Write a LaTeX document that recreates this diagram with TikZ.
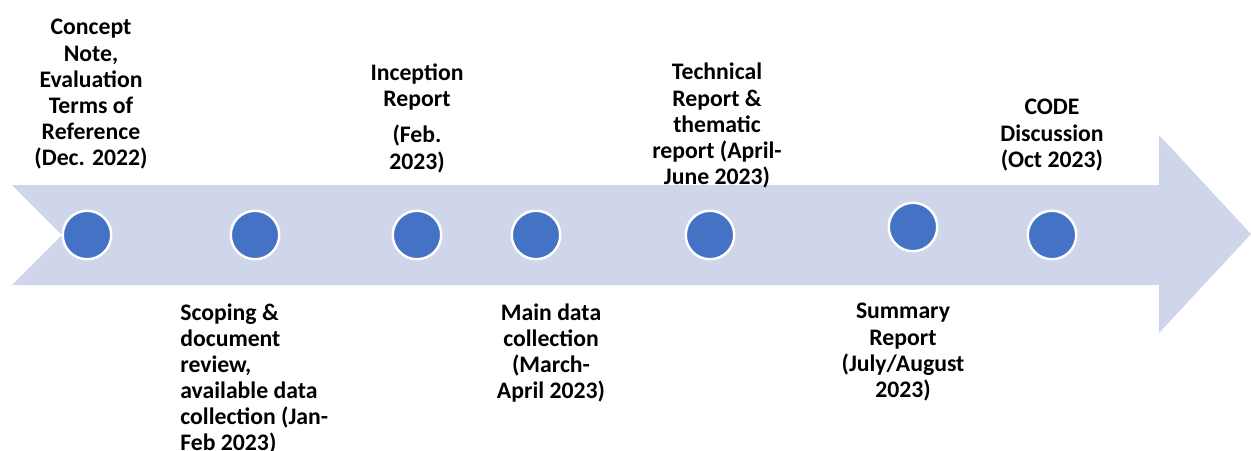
\documentclass[tikz,border=0pt]{standalone}
\usepackage{fontspec}
\setmainfont{Carlito}
\definecolor{bandblue}{HTML}{CFD5EA}
\definecolor{dotblue}{HTML}{4472C4}

\begin{document}
\begin{tikzpicture}[x=0.02cm, y=-0.02cm, line join=miter,
	milestone/.style={circle, fill=dotblue, draw=white, line width=1.4pt,
		minimum size=0.97cm, inner sep=0pt},
	stage/.style={font=\bfseries\fontsize{13.5}{14.9}\selectfont,
		align=center, inner sep=0pt, anchor=north}]
		
		\useasboundingbox (0,0) rectangle (1251,450);
		
		%========================
		% band with notched tail and arrow head
		%========================
		\fill[bandblue] (12,185) -- (1159,185) -- (1159,135) -- (1251,234)
		-- (1159,333) -- (1159,285) -- (12,285) -- (62,235) -- cycle;
		
		%========================
		% milestones on the band
		%========================
		\node[milestone] (d1) at (87,235) {};
		\node[milestone] (d2) at (255,235) {};
		\node[milestone] (d3) at (417,235) {};
		\node[milestone] (d4) at (536,235) {};
		\node[milestone] (d5) at (710,235) {};
		\node[milestone] (d6) at (913,227) {};
		\node[milestone] (d7) at (1052,235) {};
		
		%========================
		% labels above the band
		%========================
		\node[stage] (concept) at (91,19)
		{Concept\\Note,\\Evaluation\\Terms of\\Reference\\(Dec. 2022)};
		\node[stage] (inception) at (417,63)
		{Inception\\Report\\[6pt](Feb.\\2023)};
		\node[stage] (technical) at (717,63)
		{Technical\\Report \&\\thematic\\report (April-\\June 2023)};
		\node[stage] (discussion) at (1052,99)
		{CODE\\Discussion\\(Oct 2023)};
		
		%========================
		% labels below the band
		%========================
		\node[stage, align=left, anchor=north west] (scoping) at (180,303)
		{Scoping \&\\document\\review,\\available data\\collection (Jan-\\Feb 2023)};
		\node[stage] (fieldwork) at (551,303)
		{Main data\\collection\\(March-\\April 2023)};
		\node[stage] (summary) at (903,303)
		{Summary\\Report\\(July/August\\2023)};
		
	\end{tikzpicture}
\end{document}
